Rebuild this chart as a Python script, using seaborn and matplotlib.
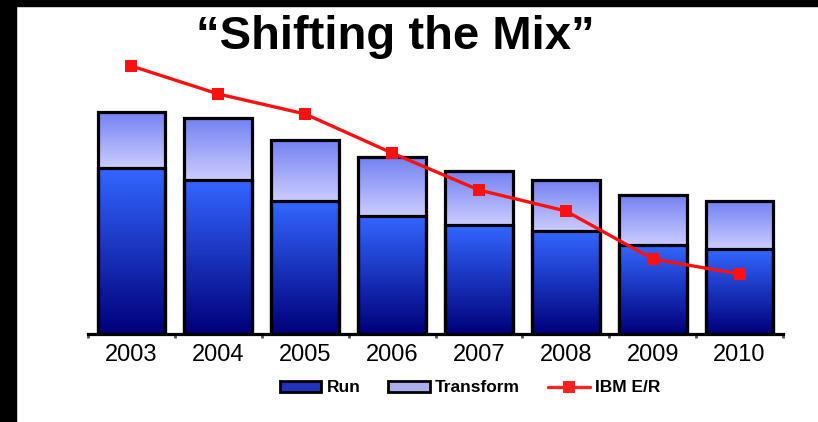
import matplotlib
matplotlib.use("Agg")
import matplotlib.pyplot as plt
import matplotlib.patches as mpatches
from matplotlib.lines import Line2D
from matplotlib.colors import LinearSegmentedColormap
import seaborn as sns
import numpy as np
import pandas as pd

sns.set_theme(style="white")
plt.rcParams['font.family'] = ['Liberation Sans', 'DejaVu Sans']
plt.rcParams['text.color'] = 'black'
plt.rcParams['xtick.color'] = 'black'
plt.rcParams['xtick.labelcolor'] = 'black'

# degerler (birimsiz)
yillar = ['2003', '2004', '2005', '2006', '2007', '2008', '2009', '2010']
run = [166, 154, 133, 118, 109, 103, 89, 85]
transform = [56, 62, 61, 59, 54, 51, 50, 48]
ibm_er = [268, 240, 220, 181, 144, 123, 75, 60]

toplam = [r + t for r, t in zip(run, transform)]
df = pd.DataFrame({'Yil': yillar, 'Run': run, 'Toplam': toplam, 'ER': ibm_er})

W, H = 818, 422
fig = plt.figure(figsize=(W / 100, H / 100), dpi=100)
fig.patch.set_facecolor('white')
ax = fig.add_axes([88 / W, (H - 334) / H, (783 - 88) / W, (334 - 50) / H])

# once toplam (transform), sonra run
sns.barplot(data=df, x='Yil', y='Toplam', color='#aab0ee', saturation=1,
            width=0.78, edgecolor='black', linewidth=2.3, ax=ax)
sns.barplot(data=df, x='Yil', y='Run', color='#2244cc', saturation=1,
            width=0.78, edgecolor='black', linewidth=2.3, ax=ax)

cmap_run = LinearSegmentedColormap.from_list('run', ['#00007a', '#3366ff'])
cmap_tr = LinearSegmentedColormap.from_list('tr', ['#ccccff', '#7482f2'])
grad = np.linspace(0, 1, 100).reshape(-1, 1)

bars = list(ax.patches)
for i, p in enumerate(bars):
    x0, w = p.get_x(), p.get_width()
    if i < len(yillar):
        y0, y1 = run[i], toplam[i]
        cm = cmap_tr
    else:
        y0, y1 = 0, run[i - len(yillar)]
        cm = cmap_run
    im = ax.imshow(grad, cmap=cm, aspect='auto', origin='lower',
                   extent=[x0, x0 + w, y0, y1], zorder=2, interpolation='bilinear')
    im.set_clip_path(p)
    p.set_facecolor('none')
    p.set_zorder(3)

sns.lineplot(x=np.arange(len(yillar)), y=ibm_er, color='#ff1010', linewidth=2.4,
             marker='s', markersize=8, markeredgewidth=0, ax=ax, zorder=5)
for l in ax.lines:
    l.set_clip_on(False)

ax.set_xlim(-0.5, 7.5)
ax.set_ylim(0, 284)
ax.set_xlabel('')
ax.set_ylabel('')
ax.set_yticks([])
for s in ['top', 'right', 'left']:
    ax.spines[s].set_visible(False)
ax.spines['bottom'].set_color('black')
ax.spines['bottom'].set_linewidth(2.3)
ax.set_xticks(range(len(yillar)))
ax.set_xticklabels(yillar, fontsize=17, color='black')
ax.set_xticks(np.arange(-0.5, 8, 1), minor=True)
ax.tick_params(axis='x', which='major', length=0, pad=7)
ax.tick_params(axis='x', which='minor', length=3, width=2, color='#555555', bottom=True)
ax.set_facecolor('none')

fig.text(395 / W, (H - 37) / H, '\u201cShifting the Mix\u201d', fontsize=34,
         fontweight='bold', ha='center', va='center', color='black')

# lejant
h_run = mpatches.Patch(facecolor='#2233bb', edgecolor='black', linewidth=2)
h_tr = mpatches.Patch(facecolor='#aab0ee', edgecolor='black', linewidth=2)
h_er = Line2D([], [], color='#ff2020', linewidth=2.4, marker='s', markersize=8, markeredgewidth=0)
leg = fig.legend([h_run, h_tr, h_er], ['Run', 'Transform', 'IBM E/R'], loc='center',
                 bbox_to_anchor=(470 / W, (H - 388) / H), ncol=3, frameon=False,
                 prop={'size': 12.5, 'weight': 'bold'}, handlelength=2.4, handleheight=0.6,
                 handletextpad=0.3, columnspacing=1.6)
for t in leg.get_texts():
    t.set_color('black')

# siyah kenarlar
fig.patches.append(mpatches.Rectangle((0, 0), 16 / W, 1, transform=fig.transFigure,
                                      color='black', zorder=10))
fig.patches.append(mpatches.Rectangle((0, 1 - 6 / H), 1, 6 / H, transform=fig.transFigure,
                                      color='black', zorder=10))

fig.savefig('out.png', dpi=100)
